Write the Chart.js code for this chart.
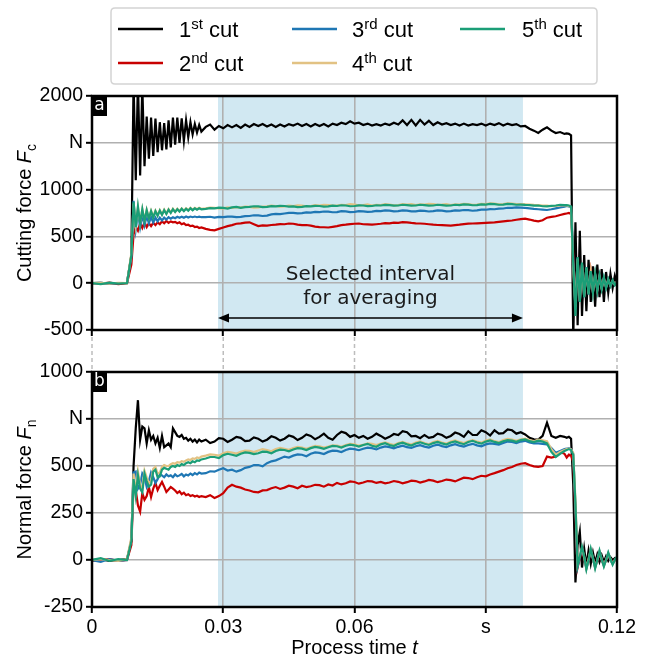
<!DOCTYPE html>
<html><head><meta charset="utf-8">
<script src="https://cdn.jsdelivr.net/npm/chart.js@4/dist/chart.umd.min.js"></script>
<style>
html,body{margin:0;padding:0;background:#fff;}
#wrap{position:relative;width:648px;height:661px;overflow:hidden;background:#fff;}
#cA{position:absolute;left:0;top:0;}
#cB{position:absolute;left:0;top:335px;}
</style></head><body>
<div id="wrap"><canvas id="cA" width="648" height="345"></canvas><canvas id="cB" width="648" height="326"></canvas></div>
<script>
// ---- time axis (s) ----
const timeS = [
  0, 0.002, 0.004, 0.006, 0.008, 0.009,
  0.0095, 0.010, 0.0105, 0.011, 0.0115, 0.012, 0.0125, 0.013, 0.0135, 0.014, 0.0145, 0.015, 0.0155, 0.016, 0.0165, 0.017,
  0.0175, 0.018, 0.0185, 0.019, 0.0195, 0.020, 0.0205, 0.021, 0.0215, 0.022, 0.0225, 0.023, 0.0235, 0.024, 0.0245, 0.025,
  0.026, 0.027, 0.028, 0.029, 0.030, 0.031, 0.032, 0.033, 0.034, 0.035,
  0.036, 0.037, 0.038, 0.039, 0.040, 0.041, 0.042, 0.043, 0.044, 0.045,
  0.046, 0.047, 0.048, 0.049, 0.050, 0.051, 0.052, 0.053, 0.054, 0.055,
  0.056, 0.057, 0.058, 0.059, 0.060, 0.061, 0.062, 0.063, 0.064, 0.065,
  0.066, 0.067, 0.068, 0.069, 0.070, 0.071, 0.072, 0.073, 0.074, 0.075,
  0.076, 0.077, 0.078, 0.079, 0.080, 0.081, 0.082, 0.083, 0.084, 0.085,
  0.086, 0.087, 0.088, 0.089, 0.090, 0.091, 0.092, 0.093, 0.094, 0.095,
  0.096, 0.097, 0.098, 0.099, 0.100, 0.101, 0.102, 0.103, 0.104, 0.105,
  0.106, 0.107, 0.108,
  0.1085, 0.109, 0.1095, 0.110, 0.1105, 0.111, 0.1115, 0.112, 0.1125, 0.113, 0.1135, 0.114, 0.1145, 0.115, 0.1155, 0.116,
  0.1165, 0.117, 0.1175, 0.118, 0.1185, 0.119, 0.1195, 0.120
];

// ---- cutting force Fc (N) ----
const cut1Fc = [
  0, 5, -5, 0, 5, 300,
  2150, 1100, 2150, 1150, 2100, 1250, 1780, 1330, 1770, 1360, 1760, 1400, 1720, 1420, 1710, 1430, 1740, 1450, 1770, 1480, 1770, 1500, 1760, 1520, 1740, 1560, 1720, 1590, 1700, 1610, 1690, 1620,
  1670, 1695, 1640, 1680, 1655, 1690, 1665, 1690, 1660, 1695,
  1670, 1700, 1680, 1700, 1675, 1695, 1670, 1695, 1675, 1700,
  1685, 1705, 1680, 1700, 1675, 1700, 1680, 1700, 1675, 1705,
  1690, 1715, 1700, 1730, 1705, 1715, 1690, 1705, 1685, 1700,
  1685, 1705, 1690, 1715, 1695, 1740, 1690, 1745, 1685, 1745,
  1695, 1735, 1690, 1720, 1695, 1710, 1690, 1705, 1685, 1705,
  1685, 1700, 1690, 1705, 1685, 1705, 1690, 1710, 1685, 1705,
  1690, 1700, 1675, 1680, 1650, 1630, 1605, 1640, 1665, 1630,
  1605, 1615, 1595,
  1600, 1595, 1580, -600, 650, -450, 560, -350, 300, -300, 250, -200, 180, -250, 200, -150, 150, -200, 120, -100, 100, -50, 80, 0
];
const cut2Fc = [
  0, -5, 5, -10, 0, 200,
  520, 600, 560, 640, 590, 650, 600, 640, 610, 645, 620, 650, 630, 660, 640, 665, 645, 660, 650, 655, 640, 650, 630, 640, 620, 625, 610, 615, 600, 605, 590, 595,
  580, 570, 565, 580, 595, 610, 620, 635, 640, 648,
  650, 630, 610, 618, 615, 622, 625, 632, 630, 638,
  635, 625, 620, 622, 615, 605, 600, 598, 595, 602,
  610, 620, 625, 632, 635, 638, 630, 628, 625, 630,
  635, 642, 640, 648, 645, 652, 650, 644, 640, 638,
  635, 630, 625, 622, 620, 618, 615, 620, 625, 632,
  636, 638, 640, 642, 645, 648, 650, 655, 660, 666,
  670, 678, 685, 690, 680, 668, 660, 672, 700, 708,
  715, 728, 740,
  745, 750, 740, 300, -250, 250, -180, 200, -140, 160, -110, 120, -90, 90, -70, 70, -50, 50, -40, 35, -25, 25, -15, 10
];
const cut3Fc = [
  0, 5, -5, 0, 5, 280,
  880, 580, 760, 600, 730, 620, 720, 640, 710, 650, 700, 660, 700, 670, 700, 680, 705, 690, 705, 695, 710, 700, 710, 700, 712, 702, 712, 705, 712, 705, 710, 705,
  705, 710, 700, 708, 705, 712, 712, 706, 708, 716,
  718, 726, 725, 718, 722, 735, 740, 738, 745, 752,
  752, 746, 748, 756, 755, 762, 760, 766, 765, 758,
  760, 770, 768, 760, 762, 770, 768, 762, 765, 772,
  770, 778, 775, 768, 770, 778, 775, 768, 768, 776,
  772, 766, 770, 778, 775, 768, 770, 778, 775, 782,
  780, 774, 778, 786, 785, 792, 790, 796, 798, 806,
  805, 810, 808, 804, 800, 794, 790, 786, 782, 790,
  800, 810, 818,
  825, 820, 810, 250, -280, 270, -200, 210, -150, 170, -120, 130, -95, 95, -75, 75, -55, 55, -45, 40, -30, 25, -20, 10
];
const cut4Fc = [
  0, 5, -5, 5, 0, 320,
  850, 620, 810, 650, 790, 670, 785, 700, 775, 710, 775, 725, 780, 735, 785, 745, 790, 755, 795, 765, 795, 770, 800, 775, 800, 780, 805, 785, 805, 790, 805, 795,
  800, 808, 805, 798, 800, 810, 805, 812, 810, 818,
  815, 808, 810, 818, 820, 828, 825, 818, 820, 830,
  825, 832, 830, 822, 825, 834, 830, 838, 835, 828,
  830, 838, 835, 844, 840, 832, 835, 842, 830, 838,
  835, 844, 840, 832, 835, 844, 840, 846, 835, 842,
  840, 848, 845, 838, 840, 846, 835, 842, 840, 848,
  845, 838, 840, 848, 845, 852, 850, 843, 845, 853,
  850, 844, 845, 842, 840, 836, 835, 830, 830, 822,
  825, 832, 830,
  830, 825, 815, 150, -250, 260, -190, 200, -140, 160, -110, 120, -90, 90, -70, 70, -55, 50, -40, 35, -25, 25, -15, 5
];
const cut5Fc = [
  0, -10, 5, -5, 0, 300,
  870, 600, 820, 640, 790, 660, 780, 690, 770, 700, 770, 720, 775, 730, 780, 740, 785, 750, 790, 760, 790, 765, 795, 770, 795, 775, 800, 780, 800, 785, 800, 790,
  795, 802, 800, 808, 805, 798, 810, 816, 805, 812,
  815, 822, 820, 812, 815, 824, 820, 827, 825, 818,
  820, 812, 815, 823, 820, 827, 825, 818, 820, 828,
  825, 833, 830, 822, 825, 832, 830, 823, 825, 833,
  830, 837, 835, 828, 830, 838, 835, 828, 830, 838,
  835, 828, 830, 838, 835, 828, 830, 838, 835, 843,
  840, 833, 835, 843, 840, 848, 845, 838, 840, 848,
  845, 838, 840, 836, 835, 828, 830, 822, 820, 826,
  830, 838, 835,
  835, 830, 820, 200, -350, 280, -200, 220, -150, 170, -120, 130, -100, 100, -80, 80, -60, 60, -50, 40, -30, 30, -20, 10
];

// ---- normal force Fn (N) ----
const cut1Fn = [
  0, 5, -5, 0, 5, 100,
  500, 700, 850, 640, 710, 700, 620, 690, 640, 660, 620, 650, 596, 660, 600, 610, 620, 600, 700, 680, 660, 655, 665, 645, 650, 635, 645, 630, 640, 625, 640, 630,
  640, 622, 630, 648, 645, 628, 640, 655, 650, 632,
  635, 652, 645, 630, 640, 658, 650, 635, 645, 662,
  655, 638, 650, 668, 660, 642, 655, 672, 650, 640,
  665, 682, 675, 655, 665, 650, 660, 645, 655, 672,
  660, 645, 655, 670, 665, 685, 680, 658, 660, 648,
  665, 650, 655, 672, 665, 650, 660, 678, 670, 655,
  685, 665, 665, 690, 680, 662, 690, 672, 675, 695,
  690, 672, 680, 668, 650, 642, 640, 660, 730, 660,
  650, 660, 655,
  650, 655, 645, 400, -120, 80, 150, -40, 60, -30, 50, -20, 40, -15, 30, -10, 25, -10, 20, -5, 15, 0, 10, 0
];
const cut2Fn = [
  -5, 0, 5, -5, 0, 80,
  400, 372, 290, 257, 356, 320, 340, 388, 335, 380, 410, 372, 395, 415, 390, 362, 375, 388, 380, 370, 356, 365, 350, 358, 345, 350, 340, 345, 338, 342, 335, 340,
  335, 345, 330, 340, 355, 385, 400, 390, 385, 375,
  370, 362, 360, 370, 372, 382, 388, 378, 385, 395,
  390, 382, 395, 388, 392, 400, 398, 390, 402, 396,
  410, 402, 408, 418, 415, 406, 412, 420, 418, 410,
  415, 408, 412, 420, 416, 408, 414, 422, 420, 412,
  418, 426, 422, 414, 420, 428, 425, 418, 428, 438,
  436, 430, 440, 448, 445, 455, 462, 470, 478, 488,
  495, 505, 512, 515, 505, 498, 495, 500, 550, 545,
  550, 575, 565,
  545, 560, 555, 520, 250, -40, 10, 55, 10, -40, 0, 45, 5, -35, 0, 40, 0, -25, 0, 30, 0, -15, 0, 10
];
const cut3Fn = [
  0, -10, 5, -5, 0, 110,
  465, 470, 380, 400, 460, 440, 390, 420, 465, 440, 410, 430, 455, 450, 440, 455, 445, 450, 440, 455, 445, 450, 458, 445, 455, 450, 460, 452, 462, 455, 465, 460,
  462, 472, 470, 480, 488, 476, 480, 470, 478, 490,
  495, 505, 505, 498, 515, 525, 530, 540, 550, 545,
  555, 562, 560, 552, 565, 572, 570, 564, 575, 582,
  580, 574, 585, 592, 590, 584, 592, 598, 595, 588,
  598, 604, 600, 594, 602, 608, 600, 596, 605, 611,
  603, 598, 608, 614, 606, 600, 610, 616, 608, 603,
  612, 618, 610, 605, 615, 620, 618, 614, 622, 630,
  628, 622, 630, 634, 625, 620, 620, 618, 615, 595,
  570, 580, 590,
  592, 595, 590, 565, 280, -35, 15, 60, 15, -45, 0, 50, 5, -40, 0, 45, 0, -30, 0, 35, 0, -20, 0, 15
];
const cut4Fn = [
  0, 5, 0, -5, 5, 120,
  460, 360, 470, 400, 380, 475, 440, 410, 420, 485, 495, 460, 465, 495, 505, 500, 500, 510, 515, 512, 520, 518, 525, 522, 530, 535, 532, 540, 538, 545, 542, 550,
  555, 562, 560, 555, 568, 575, 572, 566, 575, 582,
  580, 574, 582, 590, 585, 578, 590, 597, 592, 586,
  595, 602, 598, 592, 600, 607, 605, 598, 603, 610,
  608, 602, 612, 618, 615, 608, 612, 620, 618, 612,
  620, 626, 618, 612, 622, 628, 620, 614, 625, 631,
  622, 616, 628, 634, 625, 619, 630, 636, 628, 622,
  632, 638, 630, 624, 635, 641, 632, 627, 638, 644,
  640, 634, 642, 646, 638, 632, 640, 636, 632, 590,
  560, 575, 585,
  590, 592, 588, 570, 320, -20, 25, 65, 15, -45, 5, 55, 10, -40, 0, 45, 5, -30, 0, 35, 5, -20, 0, 15
];
const cut5Fn = [
  0, 10, -5, 5, 0, 100,
  430, 340, 450, 380, 360, 460, 420, 390, 400, 470, 480, 440, 445, 480, 490, 485, 480, 495, 500, 495, 505, 500, 510, 505, 515, 520, 515, 525, 520, 530, 528, 535,
  540, 548, 548, 542, 558, 565, 560, 554, 565, 572,
  570, 563, 568, 576, 575, 568, 580, 587, 585, 578,
  588, 595, 592, 585, 595, 602, 598, 591, 600, 607,
  605, 598, 608, 614, 610, 603, 612, 618, 608, 602,
  615, 621, 612, 606, 618, 624, 615, 609, 620, 626,
  618, 612, 622, 628, 620, 614, 625, 631, 622, 616,
  628, 634, 625, 619, 630, 636, 628, 622, 632, 638,
  635, 629, 638, 642, 632, 627, 635, 630, 620, 575,
  548, 565, 580,
  585, 590, 585, 560, 300, -30, 20, 70, 20, -50, 0, 60, 10, -45, 0, 50, 5, -35, 0, 40, 5, -25, 0, 20
];

// ---- labels / ticks ----
const seriesNames = ['1st cut', '2nd cut', '3rd cut', '4th cut', '5th cut'];
const legendNum = ['1', '2', '3', '4', '5'];
const legendSup = ['st', 'nd', 'rd', 'th', 'th'];
const seriesColors = ['#000000', '#c80000', '#1f77b4', '#e2c283', '#1b9e77'];
const xTickValues = [0, 0.03, 0.06, 0.09, 0.12];
const xTickLabels = ['0', '0.03', '0.06', 's', '0.12'];
const fcTickValues = [-500, 0, 500, 1000, 1500, 2000];
const fcTickLabels = ['-500', '0', '500', '1000', 'N', '2000'];
const fnTickValues = [-250, 0, 250, 500, 750, 1000];
const fnTickLabels = ['-250', '0', '250', '500', 'N', '1000'];
const bandInterval = [0.0288, 0.0985];
const annotationLines = ['Selected interval', 'for averaging'];

const SANS = '"Liberation Sans", Arial, sans-serif';
const DEJA = '"DejaVu Sans", sans-serif';

function drawParts(ctx, parts, cx, cy) {
  let total = 0;
  parts.forEach(p => { ctx.font = p.font; p.w = ctx.measureText(p.text).width; total += p.w; });
  let x = cx - total / 2;
  ctx.textBaseline = 'alphabetic';
  ctx.textAlign = 'left';
  parts.forEach(p => { ctx.font = p.font; ctx.fillText(p.text, x, cy + (p.dy || 0)); x += p.w; });
}

function makePlugin(cfg) {
  return {
    id: 'panel' + cfg.letter,
    beforeDraw(chart) {
      const {ctx, chartArea: a, scales: {x}} = chart;
      const x0 = x.getPixelForValue(bandInterval[0]);
      const x1 = x.getPixelForValue(bandInterval[1]);
      ctx.save();
      ctx.fillStyle = 'rgb(209,232,242)';
      ctx.fillRect(x0, a.top, x1 - x0, a.bottom - a.top);
      ctx.restore();
    },
    afterDatasetsDraw(chart) {
      const {ctx, chartArea: a} = chart;
      ctx.save();
      ctx.strokeStyle = '#000';
      ctx.lineWidth = 2.5;
      ctx.strokeRect(a.left, a.top, a.right - a.left, a.bottom - a.top);
      ctx.fillStyle = '#000';
      ctx.fillRect(a.left, a.top, 15, 20);
      ctx.fillStyle = '#fff';
      ctx.font = '17px ' + DEJA;
      ctx.textAlign = 'center';
      ctx.textBaseline = 'middle';
      ctx.fillText(cfg.letter, a.left + 7.5, a.top + 10);
      ctx.restore();
    },
    afterDraw(chart) {
      const {ctx, chartArea: a, scales: {x}} = chart;
      ctx.save();
      ctx.fillStyle = '#000';
      ctx.save();
      ctx.translate(31, (a.top + a.bottom) / 2);
      ctx.rotate(-Math.PI / 2);
      drawParts(ctx, [
        {text: cfg.yTitle + ' ', font: '20px ' + SANS},
        {text: 'F', font: 'italic 20px ' + SANS},
        {text: cfg.ySub, font: '14px ' + SANS, dy: 5}
      ], 0, 0);
      ctx.restore();

      if (cfg.top) {
        const xa = x.getPixelForValue(bandInterval[0]);
        const xb = x.getPixelForValue(bandInterval[1]);
        const xc = (xa + xb) / 2;
        ctx.fillStyle = '#1a1a1a';
        ctx.font = '20px ' + DEJA;
        ctx.textAlign = 'center';
        ctx.textBaseline = 'alphabetic';
        ctx.fillText(annotationLines[0], xc, 280);
        ctx.fillText(annotationLines[1], xc, 304);
        const ya = 318;
        ctx.strokeStyle = '#000';
        ctx.fillStyle = '#000';
        ctx.lineWidth = 1.5;
        ctx.beginPath(); ctx.moveTo(xa + 8, ya); ctx.lineTo(xb - 8, ya); ctx.stroke();
        ctx.beginPath(); ctx.moveTo(xa, ya); ctx.lineTo(xa + 11, ya - 4.5); ctx.lineTo(xa + 11, ya + 4.5); ctx.closePath(); ctx.fill();
        ctx.beginPath(); ctx.moveTo(xb, ya); ctx.lineTo(xb - 11, ya - 4.5); ctx.lineTo(xb - 11, ya + 4.5); ctx.closePath(); ctx.fill();

        const bx = 111, by = 8, bw = 486, bh = 76, r = 4;
        ctx.beginPath();
        ctx.moveTo(bx + r, by); ctx.lineTo(bx + bw - r, by); ctx.quadraticCurveTo(bx + bw, by, bx + bw, by + r);
        ctx.lineTo(bx + bw, by + bh - r); ctx.quadraticCurveTo(bx + bw, by + bh, bx + bw - r, by + bh);
        ctx.lineTo(bx + r, by + bh); ctx.quadraticCurveTo(bx, by + bh, bx, by + bh - r);
        ctx.lineTo(bx, by + r); ctx.quadraticCurveTo(bx, by, bx + r, by);
        ctx.closePath();
        ctx.fillStyle = '#fff'; ctx.fill();
        ctx.strokeStyle = '#d4d4d4'; ctx.lineWidth = 1.5; ctx.stroke();
        const colLine = [118, 292, 460], colText = [179, 352, 522], rowY = [29, 63];
        for (let i = 0; i < seriesNames.length; i++) {
          const c = Math.floor(i / 2), rr = i % 2;
          const y = rowY[rr];
          ctx.strokeStyle = seriesColors[i]; ctx.lineWidth = 2.6;
          ctx.beginPath(); ctx.moveTo(colLine[c], y); ctx.lineTo(colLine[c] + 45, y); ctx.stroke();
          ctx.fillStyle = '#000';
          ctx.textAlign = 'left'; ctx.textBaseline = 'alphabetic';
          let tx = colText[c];
          ctx.font = '22px ' + SANS; ctx.fillText(legendNum[i], tx, y + 8); tx += ctx.measureText(legendNum[i]).width;
          ctx.font = '15px ' + SANS; ctx.fillText(legendSup[i], tx, y); tx += ctx.measureText(legendSup[i]).width;
          ctx.font = '22px ' + SANS; ctx.fillText(' cut', tx, y + 8);
        }
      } else {
        ctx.fillStyle = '#000';
        drawParts(ctx, [
          {text: 'Process time ', font: '20px ' + SANS},
          {text: 't', font: 'italic 20px ' + SANS}
        ], (a.left + a.right) / 2, 319);
        ctx.strokeStyle = '#bdbdbd';
        ctx.lineWidth = 1.5;
        ctx.setLineDash([4, 3]);
        xTickValues.forEach(v => {
          const px = x.getPixelForValue(v);
          ctx.beginPath(); ctx.moveTo(px, 2); ctx.lineTo(px, a.top - 2); ctx.stroke();
        });
        ctx.setLineDash([]);
      }
      ctx.restore();
    }
  };
}

function makeChart(canvas, series, yTicks, yLabels, cfg) {
  const gridOpts = {color: '#b0b0b0', lineWidth: 1.6, drawTicks: true, tickLength: 6, tickColor: '#000', tickWidth: 2};
  return new Chart(canvas, {
    type: 'line',
    data: {
      datasets: series.map((vals, i) => ({
        label: seriesNames[i],
        data: timeS.map((t, k) => ({x: t, y: vals[k]})),
        borderColor: seriesColors[i],
        backgroundColor: seriesColors[i],
        borderWidth: 2.2,
        pointRadius: 0,
        tension: 0,
        fill: false,
        order: series.length - i
      }))
    },
    options: {
      responsive: false,
      animation: false,
      events: [],
      layout: {padding: {left: 0, right: 31, top: cfg.padTop, bottom: 0}},
      plugins: {legend: {display: false}, tooltip: {enabled: false}},
      scales: {
        x: {
          type: 'linear', min: 0, max: 0.12,
          afterBuildTicks: s => { s.ticks = xTickValues.map(v => ({value: v})); },
          afterFit: s => { s.height = cfg.xHeight; },
          grid: gridOpts,
          border: {display: false},
          ticks: {
            display: !cfg.top, autoSkip: false, maxRotation: 0, padding: 3,
            color: '#000', font: {family: SANS, size: 19.5},
            callback: (v, i) => xTickLabels[i]
          }
        },
        y: {
          type: 'linear', min: yTicks[0], max: yTicks[yTicks.length - 1],
          afterBuildTicks: s => { s.ticks = yTicks.map(v => ({value: v})); },
          afterFit: s => { s.width = 92; },
          grid: gridOpts,
          border: {display: false},
          ticks: {
            autoSkip: false, padding: 3, color: '#000', font: {family: SANS, size: 19.5},
            callback: (v, i) => yLabels[i]
          }
        }
      }
    },
    plugins: [makePlugin(cfg)]
  });
}

makeChart(document.getElementById('cA'), [cut1Fc, cut2Fc, cut3Fc, cut4Fc, cut5Fc], fcTickValues, fcTickLabels,
  {letter: 'a', top: true, padTop: 96, xHeight: 15, yTitle: 'Cutting force', ySub: 'c'});
makeChart(document.getElementById('cB'), [cut1Fn, cut2Fn, cut3Fn, cut4Fn, cut5Fn], fnTickValues, fnTickLabels,
  {letter: 'b', top: false, padTop: 37, xHeight: 54, yTitle: 'Normal force', ySub: 'n'});
</script></body></html>
